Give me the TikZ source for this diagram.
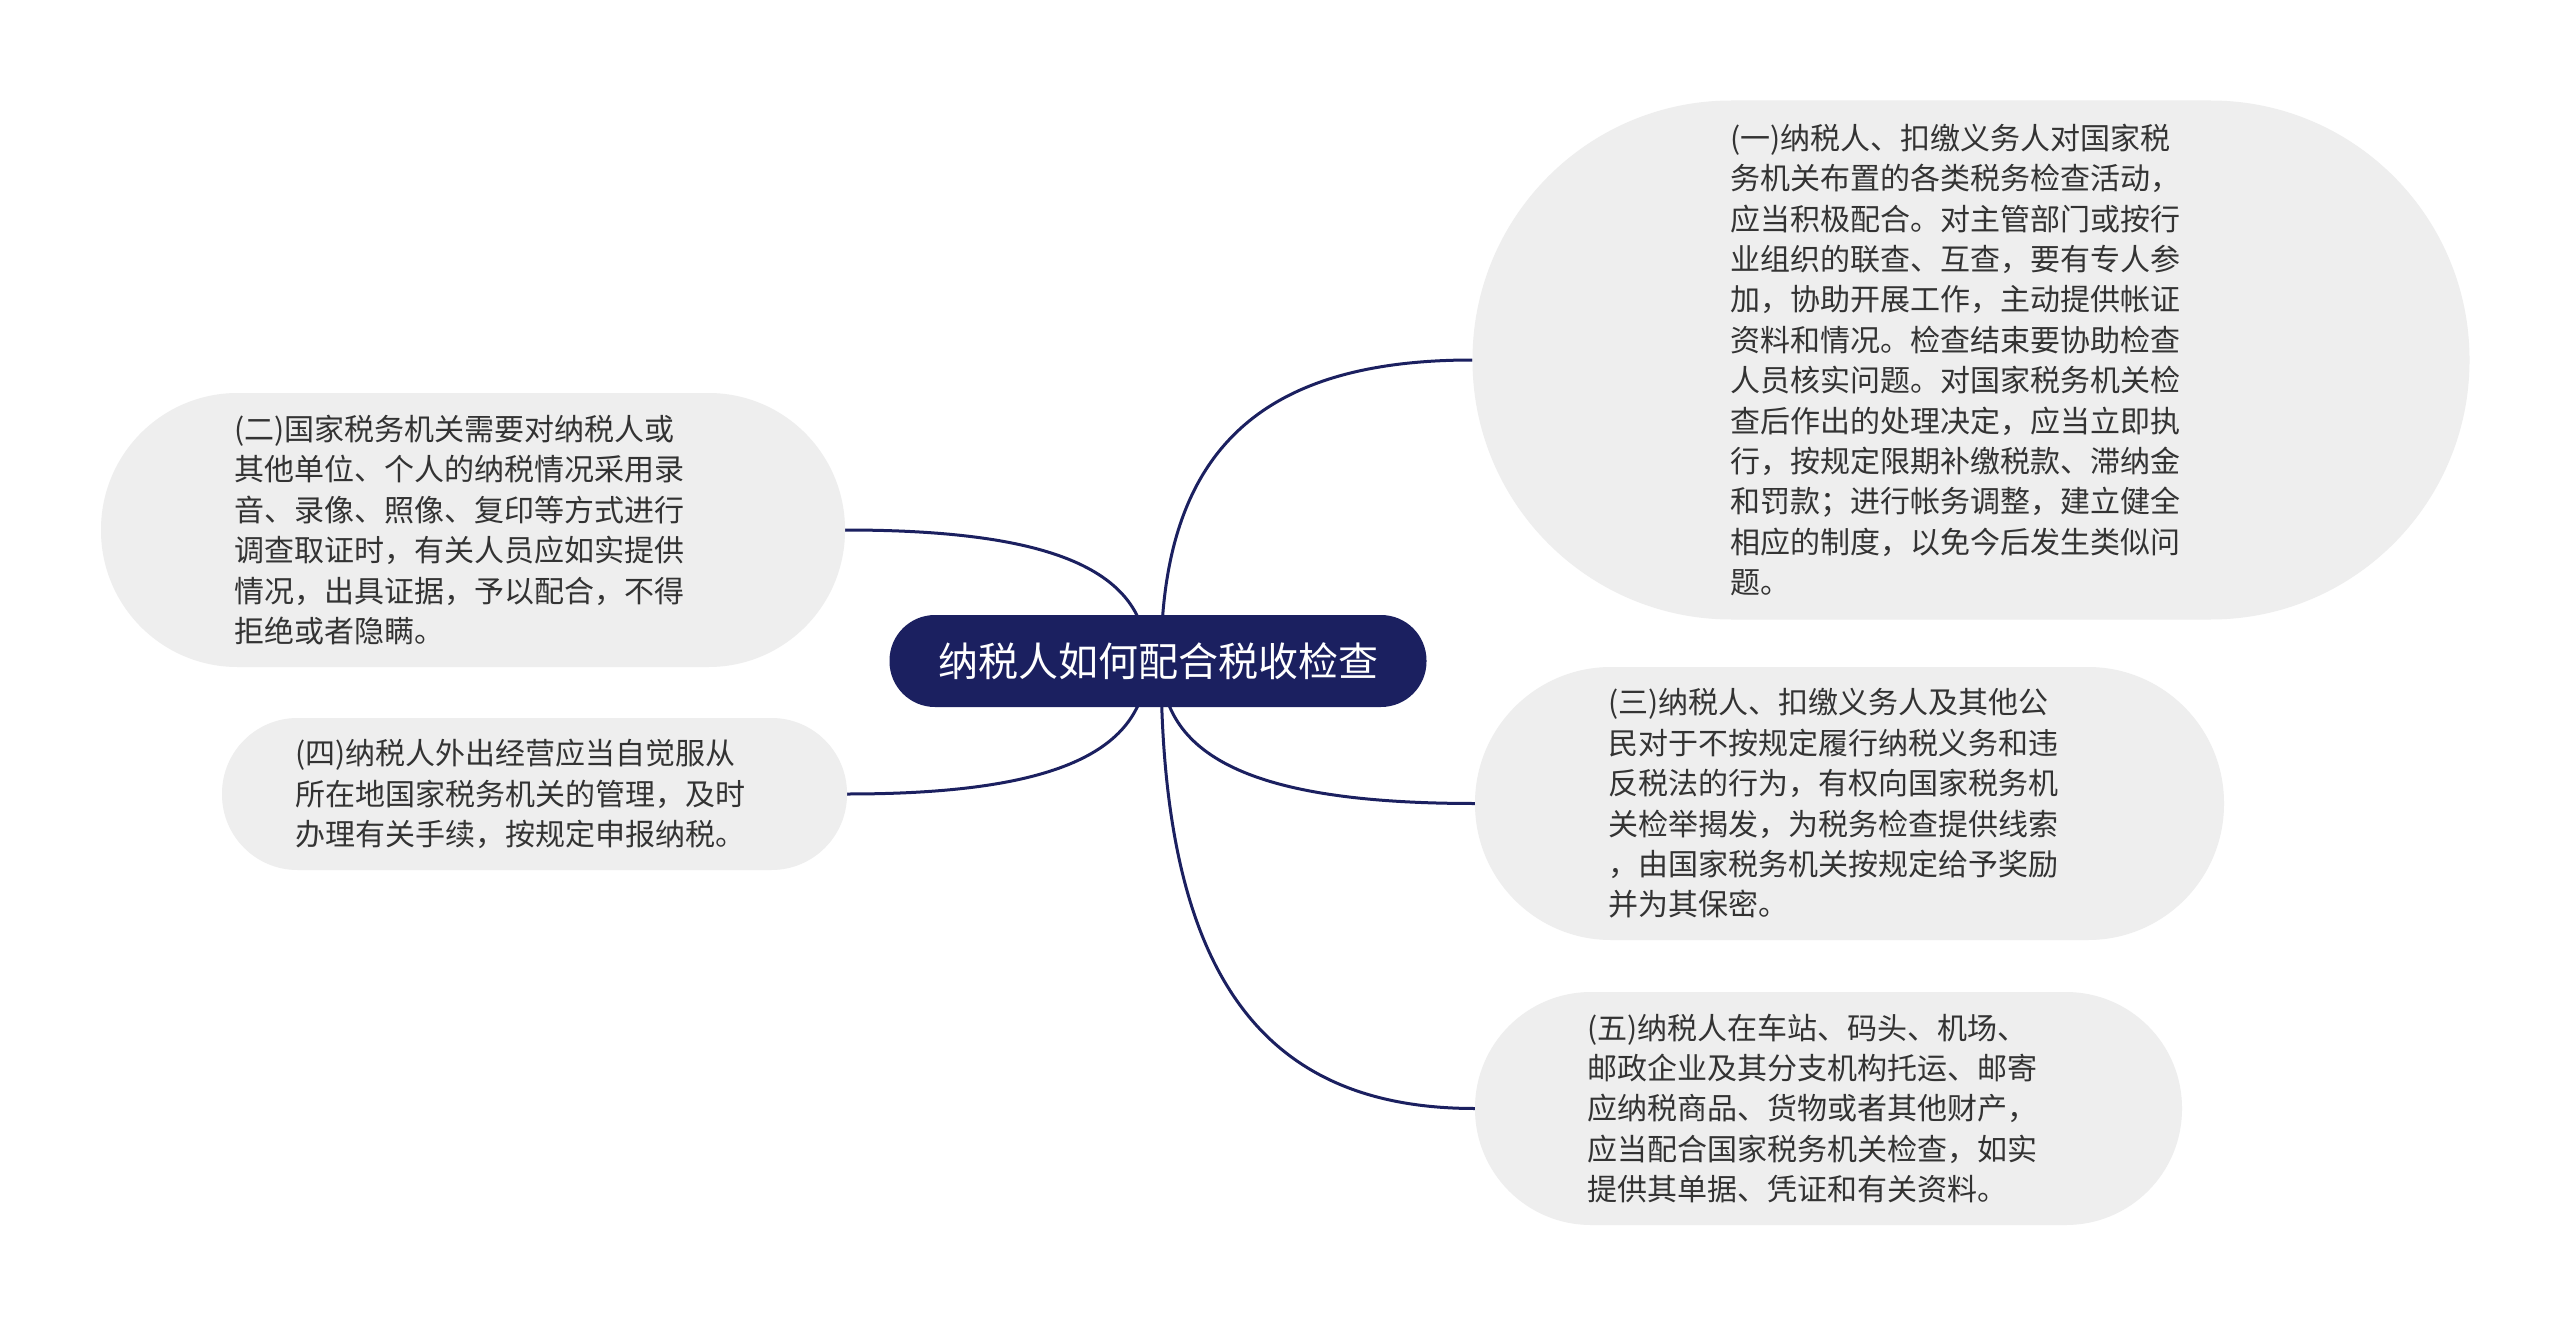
\documentclass[tikz,border=0pt]{standalone}
\usepackage{fontspec}
\setmainfont{Noto Sans CJK SC}
\usetikzlibrary{calc}
\definecolor{navy}{RGB}{27,32,96}
\definecolor{bub}{RGB}{238,238,238}
\definecolor{txt}{RGB}{51,51,51}
\pgfdeclarelayer{bg}
\pgfdeclarelayer{paper}
\pgfsetlayers{paper,bg,main}
\begin{document}
\begin{tikzpicture}[x=1pt,y=-1pt,
  bubble/.style={fill=bub, inner sep=0pt},
  btext/.style={text=txt, align=left, inner sep=0pt, font=\fontsize{30}{40.4}\selectfont},
  root/.style={fill=navy, text=white, inner sep=0pt, minimum width=537pt, minimum height=92pt, rounded corners=45.5pt, font=\fontsize{40}{48}\selectfont},
  link/.style={draw=navy, line width=3pt}]
\begin{pgfonlayer}{paper}
\fill[white] (0,0) rectangle (2560,1324);
\end{pgfonlayer}
\useasboundingbox (0,0) rectangle (2560,1324);

\node[root] (c) at (1158,661) {纳税人如何配合税收检查};

\node[bubble, minimum width=997pt, minimum height=519pt, rounded corners=259pt] (n1) at (1971,360) {};
\node[btext] (t1) at ($(n1.center)+(-16,0)$) {%
(一)纳税人、扣缴义务人对国家税\\%
务机关布置的各类税务检查活动，\\%
应当积极配合。对主管部门或按行\\%
业组织的联查、互查，要有专人参\\%
加，协助开展工作，主动提供帐证\\%
资料和情况。检查结束要协助检查\\%
人员核实问题。对国家税务机关检\\%
查后作出的处理决定，应当立即执\\%
行，按规定限期补缴税款、滞纳金\\%
和罚款；进行帐务调整，建立健全\\%
相应的制度，以免今后发生类似问\\%
题。};

\node[bubble, minimum width=744pt, minimum height=274pt, rounded corners=136.5pt] (n2) at (473,530) {};
\node[btext] (t2) at ($(n2.center)+(-14,0)$) {%
(二)国家税务机关需要对纳税人或\\%
其他单位、个人的纳税情况采用录\\%
音、录像、照像、复印等方式进行\\%
调查取证时，有关人员应如实提供\\%
情况，出具证据，予以配合，不得\\%
拒绝或者隐瞒。};

\node[bubble, minimum width=625pt, minimum height=152pt, rounded corners=75.5pt] (n4) at (534.5,794) {};
\node[btext] (t4) at ($(n4.center)+(-14,0)$) {%
(四)纳税人外出经营应当自觉服从\\%
所在地国家税务机关的管理，及时\\%
办理有关手续，按规定申报纳税。};

\node[bubble, minimum width=749pt, minimum height=273pt, rounded corners=136pt] (n3) at (1849.5,803.5) {};
\node[btext] (t3) at ($(n3.center)+(-16,0)$) {%
(三)纳税人、扣缴义务人及其他公\\%
民对于不按规定履行纳税义务和违\\%
反税法的行为，有权向国家税务机\\%
关检举揭发，为税务检查提供线索\\%
，由国家税务机关按规定给予奖励\\%
并为其保密。};

\node[bubble, minimum width=707pt, minimum height=233pt, rounded corners=116pt] (n5) at (1828.5,1108.5) {};
\node[btext] (t5) at ($(n5.center)+(-16,0)$) {%
(五)纳税人在车站、码头、机场、\\%
邮政企业及其分支机构托运、邮寄\\%
应纳税商品、货物或者其他财产，\\%
应当配合国家税务机关检查，如实\\%
提供其单据、凭证和有关资料。};

\coordinate (cr) at (1161,661);
\coordinate (cl) at (1147,661);

\begin{pgfonlayer}{bg}
\foreach \n in {n1,n3,n5}
  \draw[link] (cr) .. controls ($(cr)!0.7!(cr|-\n.west)$) and ($(cr|-\n.west)!0.32!(\n.west)$) .. (\n.west);
\foreach \n in {n2,n4}
  \draw[link] (cl) .. controls ($(cl)!0.7!(cl|-\n.east)$) and ($(cl|-\n.east)!0.32!(\n.east)$) .. (\n.east);
\end{pgfonlayer}
\end{tikzpicture}
\end{document}
